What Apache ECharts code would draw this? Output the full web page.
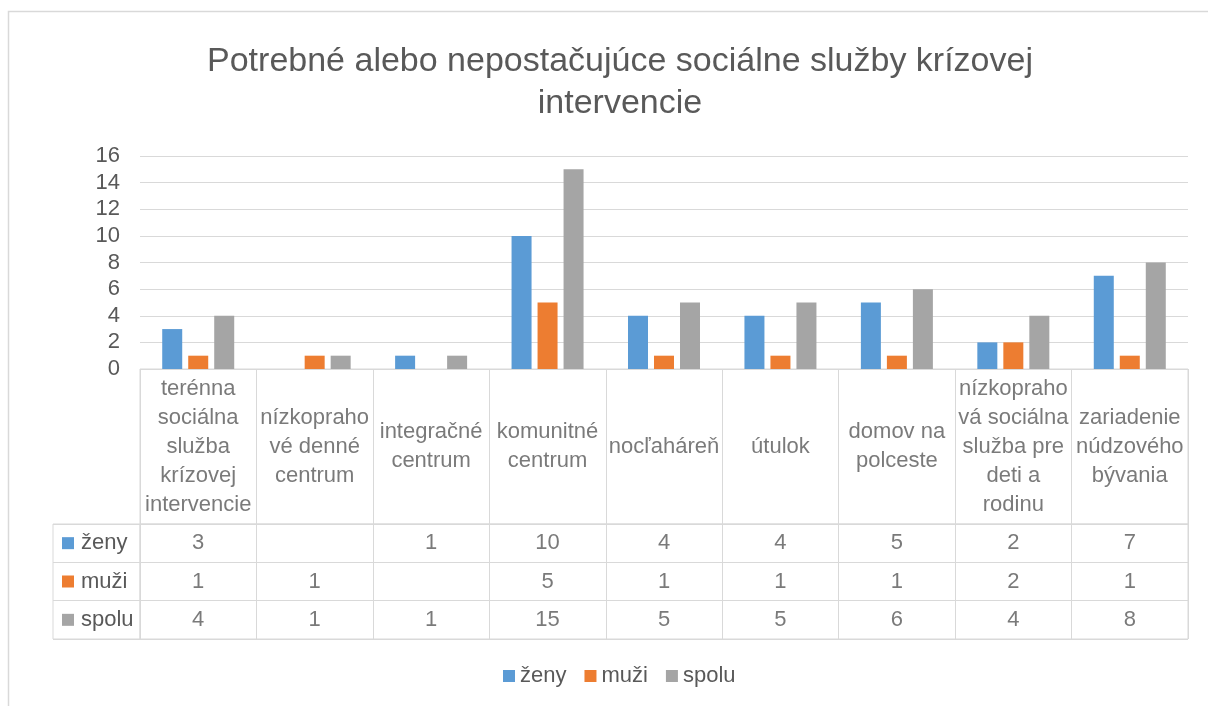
<!DOCTYPE html>
<html>
<head>
<meta charset="utf-8">
<script src="https://cdn.jsdelivr.net/npm/echarts@6/dist/echarts.min.js"></script>
<style>
  html, body { margin: 0; padding: 0; background: #fff; }
  #main { width: 1208px; height: 706px; }
</style>
</head>
<body>
<div id="main"></div>
<script>
// kategórie (s ručným zalomením ako v tabuľke)
var categories = [
  'terénna\nsociálna\nslužba\nkrízovej\nintervencie',
  'nízkopraho\nvé denné\ncentrum',
  'integračné\ncentrum',
  'komunitné\ncentrum',
  'nocľaháreň',
  'útulok',
  'domov na\npolceste',
  'nízkopraho\nvá sociálna\nslužba pre\ndeti a\nrodinu',
  'zariadenie\nnúdzového\nbývania'
];
var seriesNames = ['ženy', 'muži', 'spolu'];
var zeny = [3, null, 1, 10, 4, 4, 5, 2, 7];
var muzi = [1, 1, null, 5, 1, 1, 1, 2, 1];
var spolu = [4, 1, 1, 15, 5, 5, 6, 4, 8];
var yTicks = [0, 2, 4, 6, 8, 10, 12, 14, 16];

var colors = ['#5b9bd5', '#ed7d31', '#a5a5a5'];
var textColor = '#595959';
var lineColor = '#d9d9d9';
var font = '"Liberation Sans", Arial, sans-serif';
var rows = [zeny, muzi, spolu];

var chart = echarts.init(document.getElementById('main'));

// bunky tabuľky
var catCells = categories.map(function (c, i) { return [i, 0.5]; });
var valueCells = [];
rows.forEach(function (r, ri) {
  r.forEach(function (v, ci) {
    if (v !== null) valueCells.push([ci, ri, v]);
  });
});

var gridBox = { show: true, borderColor: lineColor, borderWidth: 1, backgroundColor: 'transparent' };

chart.setOption({
  animation: false,
  color: colors,
  textStyle: { fontFamily: font },
  title: {
    text: 'Potrebné alebo nepostačujúce sociálne služby krízovej\nintervencie',
    left: 615,
    textAlign: 'center',
    top: 36,
    textStyle: { fontSize: 34, lineHeight: 42, fontWeight: 'normal', color: textColor, fontFamily: font }
  },
  legend: {
    data: seriesNames,
    left: 498,
    top: 660,
    icon: 'rect',
    itemWidth: 12,
    itemHeight: 12,
    itemGap: 18,
    textStyle: { fontSize: 22, color: textColor, fontFamily: font }
  },
  graphic: [{
    type: 'rect',
    shape: { x: 8.5, y: 11.5, width: 1300, height: 800 },
    style: { fill: 'none', stroke: lineColor, lineWidth: 1.5 },
    silent: true
  }],
  grid: [
    { left: 140, right: 20, top: 156, height: 213 },
    Object.assign({ left: 140, right: 20, top: 369, height: 155 }, gridBox),
    Object.assign({ left: 140, right: 20, top: 524, height: 115 }, gridBox),
    Object.assign({ left: 53, width: 87, top: 524, height: 115 }, gridBox)
  ],
  xAxis: [
    { gridIndex: 0, type: 'category', data: categories, axisLine: { show: false }, axisTick: { show: false }, axisLabel: { show: false } },
    { gridIndex: 1, type: 'category', data: categories, axisLine: { show: false }, axisTick: { show: false }, axisLabel: { show: false },
      splitLine: { show: true, interval: 0, lineStyle: { color: lineColor } } },
    { gridIndex: 2, type: 'category', data: categories, axisLine: { show: false }, axisTick: { show: false }, axisLabel: { show: false },
      splitLine: { show: true, interval: 0, lineStyle: { color: lineColor } } },
    { gridIndex: 3, type: 'value', min: 0, max: 1, show: false }
  ],
  yAxis: [
    { gridIndex: 0, type: 'value', min: yTicks[0], max: yTicks[yTicks.length - 1], interval: 2,
      axisLine: { show: false }, axisTick: { show: false },
      axisLabel: { fontSize: 22, color: textColor, margin: 20, fontFamily: font },
      splitLine: { lineStyle: { color: lineColor, width: 1 } } },
    { gridIndex: 1, type: 'value', min: 0, max: 1, show: false },
    { gridIndex: 2, type: 'category', data: seriesNames, inverse: true,
      axisLine: { show: false }, axisTick: { show: false }, axisLabel: { show: false },
      splitLine: { show: true, interval: 0, lineStyle: { color: lineColor } } },
    { gridIndex: 3, type: 'category', data: seriesNames, inverse: true,
      axisLine: { show: false }, axisTick: { show: false },
      splitLine: { show: true, interval: 0, lineStyle: { color: lineColor } },
      axisLabel: {
        inside: true, margin: 9, align: 'left',
        formatter: function (v, i) { return '{k' + i + '|}{t|' + v + '}'; },
        rich: {
          k0: { backgroundColor: colors[0], width: 12, height: 12 },
          k1: { backgroundColor: colors[1], width: 12, height: 12 },
          k2: { backgroundColor: colors[2], width: 12, height: 12 },
          t: { fontSize: 22, color: textColor, padding: [0, 0, 0, 7], fontFamily: font }
        }
      } }
  ],
  series: [
    { name: seriesNames[0], type: 'bar', data: zeny, barWidth: 20, barGap: '30%' },
    { name: seriesNames[1], type: 'bar', data: muzi, barWidth: 20, barGap: '30%' },
    { name: seriesNames[2], type: 'bar', data: spolu, barWidth: 20, barGap: '30%' },
    { type: 'scatter', xAxisIndex: 1, yAxisIndex: 1, data: catCells, symbolSize: 1,
      itemStyle: { color: 'transparent' }, silent: true,
      label: { show: true, position: 'inside', fontSize: 22, lineHeight: 29, color: textColor, fontFamily: font,
        formatter: function (p) { return categories[p.data[0]]; } } },
    { type: 'scatter', xAxisIndex: 2, yAxisIndex: 2, data: valueCells, symbolSize: 1,
      itemStyle: { color: 'transparent' }, silent: true,
      label: { show: true, position: 'inside', fontSize: 22, color: textColor, fontFamily: font,
        formatter: function (p) { return String(p.data[2]); } } }
  ]
});
</script>
</body>
</html>
